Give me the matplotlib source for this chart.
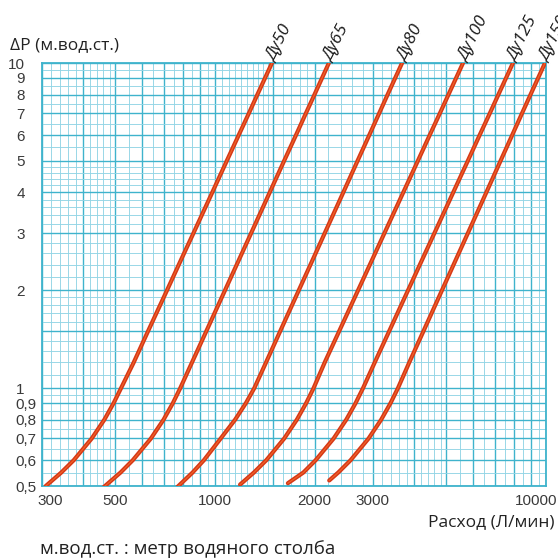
import matplotlib
matplotlib.use("Agg")
import matplotlib.pyplot as plt
import matplotlib.transforms as mtransforms
from matplotlib.ticker import FixedLocator, FixedFormatter, NullFormatter

# ---- data ----
labels = ["Ду50", "Ду65", "Ду80", "Ду100", "Ду125", "Ду150"]
dp_50 = [0.5, 0.55, 0.6, 0.7, 0.8, 0.9, 1.0, 1.2, 1.5, 2.0, 2.5, 3.0, 4.0, 5.0, 6.0, 7.0, 8.0, 10.0]
q_50 = [308, 343, 374, 424, 463, 494, 520, 568, 628, 716, 792, 861, 981, 1085, 1179, 1265, 1343, 1486]
dp_65 = [0.48, 0.5, 0.55, 0.6, 0.7, 0.8, 0.9, 1.0, 1.2, 1.5, 2.0, 2.5, 3.0, 4.0, 5.0, 6.0, 7.0, 8.0, 10.0]
q_65 = [445, 465, 518, 564, 640, 699, 746, 785, 852, 942, 1072, 1185, 1286, 1463, 1617, 1756, 1881, 1998, 2208]
dp_80 = [0.48, 0.5, 0.55, 0.6, 0.7, 0.8, 0.9, 1.0, 1.2, 1.5, 2.0, 2.5, 3.0, 4.0, 5.0, 6.0, 7.0, 8.0, 10.0]
q_80 = [745, 775, 855, 925, 1040, 1150, 1240, 1314, 1426, 1575, 1791, 1979, 2146, 2441, 2695, 2924, 3132, 3323, 3674]
dp_100 = [0.505, 0.55, 0.6, 0.7, 0.8, 0.9, 1.0, 1.2, 1.5, 2.0, 2.5, 3.0, 4.0, 5.0, 6.0, 7.0, 8.0, 10.0]
q_100 = [1190, 1310, 1428, 1618, 1767, 1886, 1985, 2145, 2374, 2705, 2993, 3251, 3705, 4100, 4452, 4778, 5075, 5614]
dp_125 = [0.51, 0.55, 0.6, 0.7, 0.8, 0.9, 1.0, 1.2, 1.5, 2.0, 2.5, 3.0, 4.0, 5.0, 6.0, 7.0, 8.0, 10.0]
q_125 = [1660, 1848, 2013, 2282, 2492, 2660, 2800, 3038, 3362, 3830, 4238, 4603, 5245, 5804, 6302, 6763, 7183, 7946]
dp_150 = [0.52, 0.55, 0.6, 0.7, 0.8, 0.9, 1.0, 1.2, 1.5, 2.0, 2.5, 3.0, 4.0, 5.0, 6.0, 7.0, 8.0, 10.0]
q_150 = [2213, 2356, 2567, 2910, 3177, 3392, 3570, 3863, 4267, 4850, 5357, 5810, 6603, 7288, 7904, 8462, 8982, 9930]

series_q = [q_50, q_65, q_80, q_100, q_125, q_150]
series_dp = [dp_50, dp_65, dp_80, dp_100, dp_125, dp_150]

x_major = [300, 400, 500, 600, 700, 800, 900, 1000, 1500, 2000, 3000, 4000, 5000,
           6000, 7000, 8000, 9000, 10000]
x_labels = ["300", "", "500", "", "", "", "", "1000", "", "2000", "3000", "", "",
            "", "", "", "", "10000"]
y_major = [0.5, 0.6, 0.7, 0.8, 0.9, 1, 1.5, 2, 3, 4, 5, 6, 7, 8, 9, 10]
y_labels = ["0,5", "0,6", "0,7", "0,8", "0,9", "1", "", "2", "3", "4", "5", "6",
            "7", "8", "9", "10"]

# fine grid of the log paper
x_minor = ([300 + 20 * i for i in range(11)] + [500 + 50 * i for i in range(11)]
           + [1000 + 50 * i for i in range(11)] + [1500 + 100 * i for i in range(6)]
           + [2000 + 200 * i for i in range(16)] + [5000 + 500 * i for i in range(11)])
y_minor = ([0.5 + 0.05 * i for i in range(11)] + [1 + 0.1 * i for i in range(11)]
           + [2 + 0.2 * i for i in range(16)] + [5 + 0.5 * i for i in range(11)])

fig = plt.figure(figsize=(5.58, 5.60), dpi=100)
ax = fig.add_axes([42 / 558, 1 - 486 / 560, (546 - 42) / 558, (486 - 63) / 560])
ax.set_xscale("log")
ax.set_yscale("log")
ax.set_xlim(300, 10000)
ax.set_ylim(0.5, 10)

ax.xaxis.set_major_locator(FixedLocator(x_major))
ax.xaxis.set_major_formatter(FixedFormatter(x_labels))
ax.xaxis.set_minor_locator(FixedLocator(x_minor))
ax.xaxis.set_minor_formatter(NullFormatter())
ax.yaxis.set_major_locator(FixedLocator(y_major))
ax.yaxis.set_major_formatter(FixedFormatter(y_labels))
ax.yaxis.set_minor_locator(FixedLocator(y_minor))
ax.yaxis.set_minor_formatter(NullFormatter())

ax.grid(which="minor", color="#92d5e5", lw=0.65)
ax.grid(which="major", color="#3fb3cc", lw=1.0)
ax.set_axisbelow(True)
for s in ax.spines.values():
    s.set_color("#3fb3cc")
    s.set_linewidth(1.3)

ax.tick_params(which="both", length=0)
ax.tick_params(axis="y", pad=12.5, labelsize=11, labelcolor="#3a3a3a")
ax.tick_params(axis="x", pad=6, labelsize=11, labelcolor="#3a3a3a")
for t in ax.get_xticklabels() + ax.get_yticklabels():
    t.set_family(["Liberation Sans", "DejaVu Sans"])

# label nudges as in the reference
for t in ax.get_yticklabels():
    if "," in t.get_text():
        t.set_transform(t.get_transform()
                        + mtransforms.ScaledTranslation(12 / 100, 0, fig.dpi_scale_trans))
xt = ax.get_xticklabels()
xt[0].set_transform(xt[0].get_transform()
                    + mtransforms.ScaledTranslation(8 / 100, 0, fig.dpi_scale_trans))
xt[-1].set_transform(xt[-1].get_transform()
                     + mtransforms.ScaledTranslation(-10 / 100, 0, fig.dpi_scale_trans))

for q, dp, lab in zip(series_q, series_dp, labels):
    ax.plot(q, dp, color="#d63816", lw=3.0, solid_capstyle="round", zorder=3)
    ax.plot(q, dp, color="#f0642a", lw=0.8, zorder=4)
    ax.annotate(lab, xy=(q[-1], dp[-1]), xytext=(5, -1), textcoords="offset points",
                rotation=63, rotation_mode="anchor", ha="left", va="bottom",
                fontsize=12.5, style="italic", family=["Open Sans", "DejaVu Sans"],
                color="#1a1a1a", annotation_clip=False)

fig.text(10 / 558, 1 - 45 / 560, "ΔP (м.вод.ст.)", fontsize=12.5,
         family=["Open Sans", "DejaVu Sans"], color="#222222", va="center", ha="left")
fig.text(555 / 558, 1 - 522 / 560, "Расход (Л/мин)", fontsize=12.5,
         family=["Open Sans", "DejaVu Sans"], color="#222222", va="center", ha="right")
fig.text(40 / 558, 1 - 549 / 560, "м.вод.ст. : метр водяного столба", fontsize=13.5,
         family=["Open Sans", "DejaVu Sans"], color="#222222", va="center", ha="left")

fig.savefig("out.png", dpi=100, facecolor="white")
